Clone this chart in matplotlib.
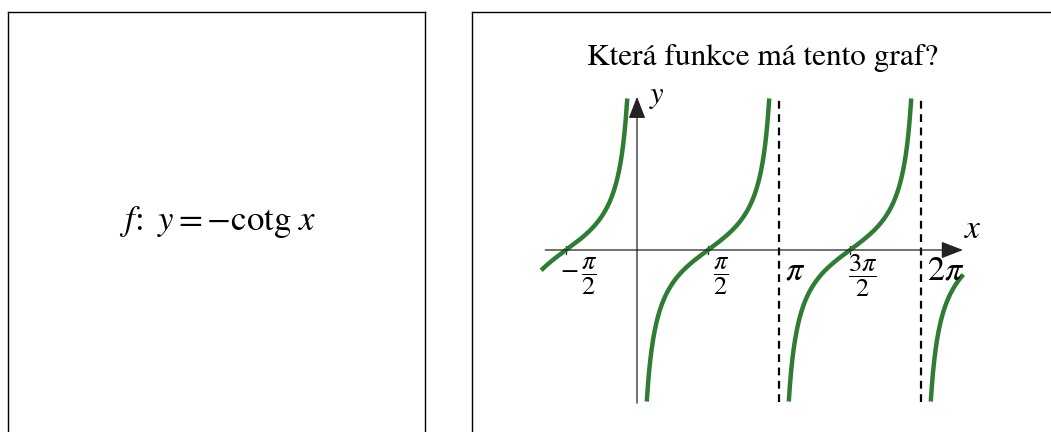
import numpy as np
import matplotlib

matplotlib.use("Agg")

import matplotlib.pyplot as plt

plt.rcParams["mathtext.fontset"] = "stix"
plt.rcParams["font.family"] = ["STIXGeneral", "Liberation Serif", "DejaVu Serif"]

# ---- content ----
FORMULA = r"$f\!:\ y = -\mathrm{cotg}\ x$"
QUESTION = "Která funkce má tento graf?"

# -cotg x, one branch per period, clipped at |y| = Y_CLIP
BRANCHES = [(-np.pi, 0.0), (0.0, np.pi), (np.pi, 2 * np.pi), (2 * np.pi, 3 * np.pi)]
X_FROM, X_TO = -2.12, 7.22
Y_CLIP = 4.55

# small ticks with fraction labels
frac_ticks = [-np.pi / 2, np.pi / 2, 3 * np.pi / 2]
frac_labels = [r"$-\,\dfrac{\pi}{2}$", r"$\dfrac{\pi}{2}$", r"$\dfrac{3\pi}{2}$"]
# asymptotes with plain labels
asym_x = [np.pi, 2 * np.pi]
asym_labels = [r"$\pi$", r"$2\pi$"]

GREEN = "#2e7d32"

# ---- figure ----
W, H = 1051, 432
fig = plt.figure(figsize=(W / 100, H / 100), dpi=100)


def frac(x0, y0, x1, y1):
    # pixel box (top-left origin) -> figure rect
    return [x0 / W, 1 - y1 / H, (x1 - x0) / W, (y1 - y0) / H]


# left frame with formula
axl = fig.add_axes(frac(8, 12, 425, 440))
axl.set_xticks([])
axl.set_yticks([])
axl.spines["bottom"].set_visible(False)
for s in ["top", "left", "right"]:
    axl.spines[s].set_linewidth(1.0)
axl.text(0.503, 1 - (222 - 12) / 428, FORMULA, ha="center", va="center",
         fontsize=25, transform=axl.transAxes)

# right frame
axr = fig.add_axes(frac(472, 12, 1060, 440))
axr.set_xticks([])
axr.set_yticks([])
axr.spines["bottom"].set_visible(False)
axr.spines["right"].set_visible(False)
for s in ["top", "left"]:
    axr.spines[s].set_linewidth(1.0)
fig.text(763 / W, 1 - 58 / H, QUESTION, ha="center", va="center", fontsize=22.5)

# graph axes: origin at pixel (637, 250), 45.2 px per unit in x, 33.3 in y
X0, Y0, SX, SY = 637, 250, 45.2, 33.3
xlim = (-2.3, 7.5)
ylim = (-4.8, 4.8)
ax = fig.add_axes(frac(X0 + SX * xlim[0], Y0 - SY * ylim[1],
                       X0 + SX * xlim[1], Y0 - SY * ylim[0]))
ax.set_xlim(*xlim)
ax.set_ylim(*ylim)
ax.axis("off")

# axes with arrows
arrow = dict(arrowstyle="-|>,head_length=0.9,head_width=0.35", mutation_scale=15,
             lw=0.9, color="#222222", shrinkA=0, shrinkB=0)
ax.annotate("", xy=(7.21, 0), xytext=(-2.03, 0), arrowprops=arrow)
ax.annotate("", xy=(0, 4.6), xytext=(0, -4.6), arrowprops=arrow)
ax.text(7.43, 0.6, r"$x$", fontsize=24, ha="center", va="center")
ax.text(0.45, 4.6, r"$y$", fontsize=22, ha="center", va="center")

# asymptotes
for xa, lab in zip(asym_x, asym_labels):
    ax.plot([xa, xa], [-Y_CLIP, Y_CLIP], color="black", lw=1.6,
            linestyle=(0, (3.5, 2.5)))
    ax.text(xa + 0.13, -0.66, lab, fontsize=24.5, ha="left", va="center")

# tick marks and fraction labels
for xt, lab in zip(frac_ticks, frac_labels):
    ax.plot([xt, xt], [-0.12, 0.12], color="#222222", lw=0.9)
    ax.text(xt + 0.28, -0.78, lab, fontsize=19, ha="center", va="center")

# the curve
dx = np.arctan(1 / Y_CLIP)
for a, b in BRANCHES:
    lo = max(a + dx, X_FROM)
    hi = min(b - dx, X_TO)
    if hi <= lo:
        continue
    xs = np.linspace(lo, hi, 400)
    ax.plot(xs, -1 / np.tan(xs), color=GREEN, lw=3.2, solid_capstyle="butt",
            clip_on=False)

fig.savefig("out.png", dpi=100)
